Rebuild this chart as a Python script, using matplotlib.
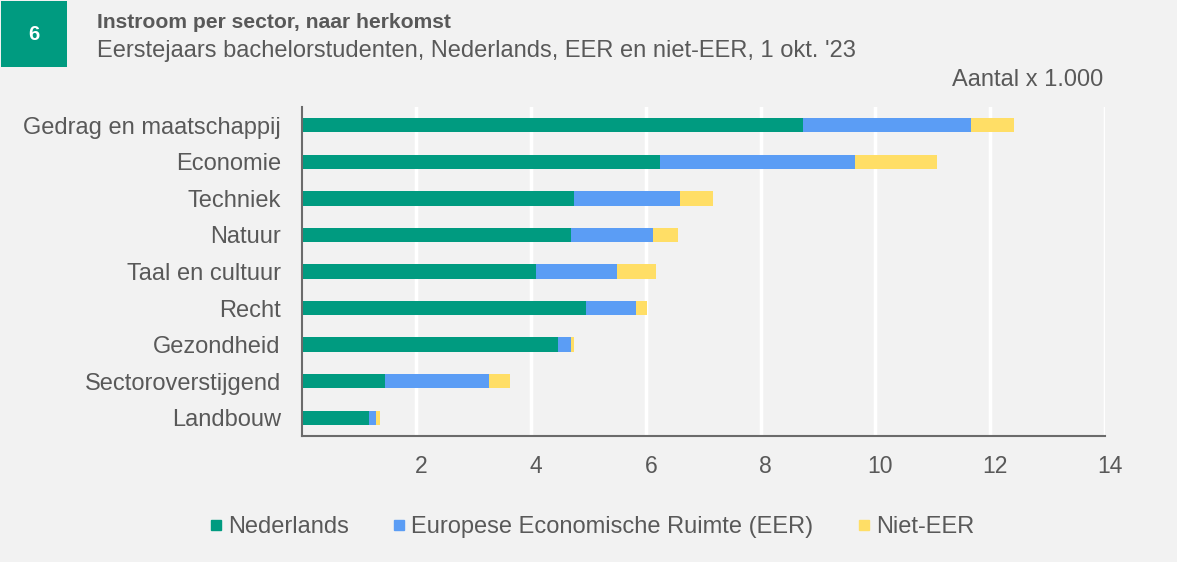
import matplotlib.pyplot as plt
import matplotlib.transforms as mtransforms
from matplotlib.patches import Rectangle
from matplotlib.lines import Line2D

plt.rcParams['font.family'] = ['Liberation Sans', 'DejaVu Sans']

sectors = ['Gedrag en maatschappij', 'Economie', 'Techniek', 'Natuur', 'Taal en cultuur',
           'Recht', 'Gezondheid', 'Sectoroverstijgend', 'Landbouw']
nederlands = [8.73, 6.25, 4.74, 4.70, 4.08, 4.95, 4.47, 1.46, 1.18]
eer = [2.93, 3.39, 1.86, 1.42, 1.42, 0.88, 0.23, 1.80, 0.11]
niet_eer = [0.75, 1.44, 0.57, 0.44, 0.67, 0.18, 0.04, 0.37, 0.07]
xticks = [2, 4, 6, 8, 10, 12, 14]

green = '#009B80'
blue = '#5B9DF5'
yellow = '#FFDE66'
bg = '#F2F2F2'
txt = '#595959'

fig = plt.figure(figsize=(11.77, 5.62), dpi=100, facecolor=bg)
ax = fig.add_axes([0.2563, 0.2242, 0.9388 - 0.2563, 0.8096 - 0.2242])
ax.set_facecolor(bg)

y = list(range(len(sectors)))
left2 = [a + b for a, b in zip(nederlands, eer)]
h = 0.39
ax.barh(y, nederlands, height=h, color=green, zorder=3)
ax.barh(y, eer, left=nederlands, height=h, color=blue, zorder=3)
ax.barh(y, niet_eer, left=left2, height=h, color=yellow, zorder=3)

ax.set_ylim(len(sectors) - 0.5, -0.5)
ax.set_xlim(0, 14)
ax.set_yticks(y)
ax.set_yticklabels(sectors, fontsize=17, color=txt)
ax.set_xticks(xticks)
ax.set_xticklabels([str(t) for t in xticks], fontsize=16.5, color=txt)
ax.tick_params(axis='y', length=0, pad=15)
ax.tick_params(axis='x', length=0, pad=14)
shift = mtransforms.ScaledTranslation(5 / 100, 0, fig.dpi_scale_trans)
for lbl in ax.get_xticklabels():
    lbl.set_transform(lbl.get_transform() + shift)
ax.grid(axis='x', color='white', linewidth=2.5, zorder=1)
for s in ['top', 'right']:
    ax.spines[s].set_visible(False)
for s in ['left', 'bottom']:
    ax.spines[s].set_color('#6b6b6b')
    ax.spines[s].set_linewidth(1.5)
    ax.spines[s].set_zorder(4)

# header
fig.patches.append(Rectangle((1 / 1177, 1 - 67 / 562), 66 / 1177, 66 / 562,
                             transform=fig.transFigure, facecolor=green, edgecolor='none'))
fig.text(34 / 1177, 1 - 34 / 562, '6', color='white', fontsize=14.5, fontweight='bold',
         ha='center', va='center')
fig.text(97 / 1177, 1 - 22 / 562, 'Instroom per sector, naar herkomst', color=txt,
         fontsize=15.2, fontweight='bold', ha='left', va='center')
fig.text(97 / 1177, 1 - 51 / 562, "Eerstejaars bachelorstudenten, Nederlands, EER en niet-EER, 1 okt. '23",
         color=txt, fontsize=17, ha='left', va='center')
fig.text(1103 / 1177, 1 - 80 / 562, 'Aantal x 1.000', color=txt, fontsize=17,
         ha='right', va='center')

handles = [Line2D([], [], marker='s', linestyle='none', markersize=7, color=c)
           for c in [green, blue, yellow]]
leg = fig.legend(handles, ['Nederlands', 'Europese Economische Ruimte (EER)', 'Niet-EER'],
                 loc='center', bbox_to_anchor=(592 / 1177, 1 - 527 / 562), ncol=3,
                 frameon=False, fontsize=17, handletextpad=0.25, columnspacing=1.9,
                 handlelength=0.5)
for t in leg.get_texts():
    t.set_color(txt)

fig.savefig('out.png', dpi=100, facecolor=bg)
